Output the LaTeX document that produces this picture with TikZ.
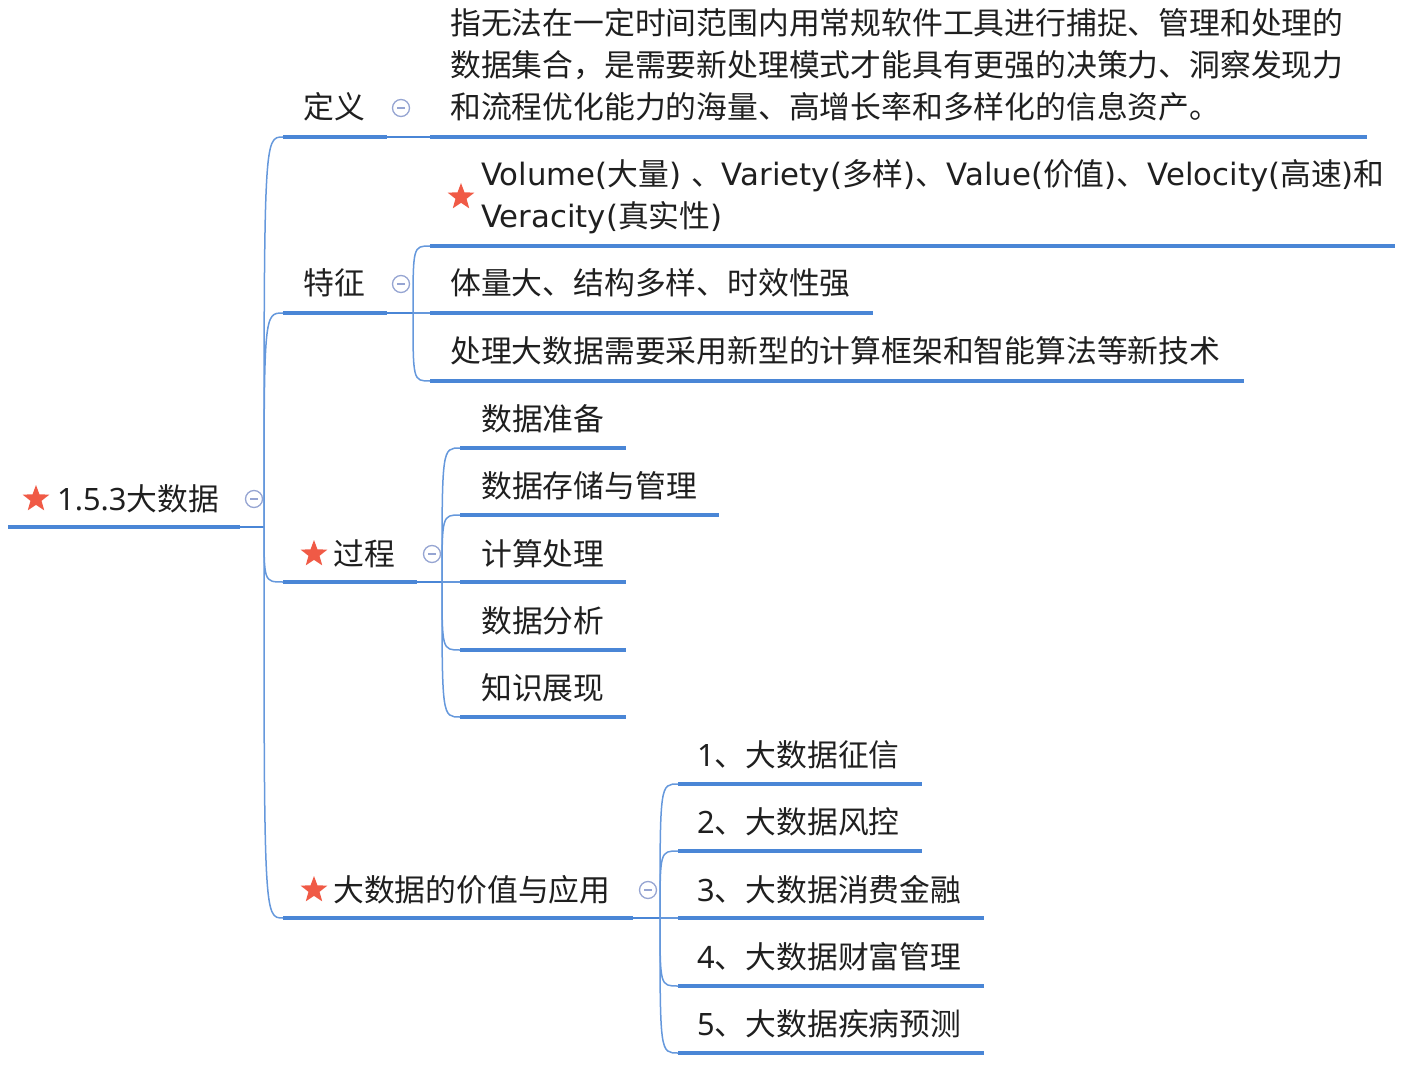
\documentclass[tikz,border=0pt]{standalone}
\usepackage{fontspec}
\setmainfont{Noto Sans CJK SC}
\newfontfamily\latin{Noto Sans}
\newfontfamily\widelatin{DejaVu Sans}
\usetikzlibrary{shapes.geometric}
\definecolor{mapblue}{RGB}{74,134,214}
\definecolor{starred}{RGB}{240,90,70}
\definecolor{foldgray}{RGB}{150,165,210}
\begin{document}
\begin{tikzpicture}[x=1pt, y=-1pt,
  topic/.style={anchor=base west, inner sep=0pt, text=black!88, font=\fontsize{30.8}{42}\selectfont},
  under/.style={mapblue, line width=4pt},
  thin/.style={mapblue, line width=1.5pt},
  link/.style={mapblue!85, line width=1.5pt},
  redstar/.style={star, star points=5, star point ratio=2.4, fill=starred, minimum size=28pt, inner sep=0pt},
  fold/.style={circle, draw=foldgray, line width=1.3pt, minimum size=17pt, inner sep=0pt,
    path picture={\draw[foldgray, line width=1.3pt] ([xshift=-4pt]path picture bounding box.center) -- ([xshift=4pt]path picture bounding box.center);}}]
\useasboundingbox (0,0) rectangle (1403,1067);

% root
\node[redstar] (rootStar) at (36,499) {};
\node[topic] (root) at (57,510) {{\latin 1.5.3}大数据};
\node[fold] (rootFold) at (254,499) {};
\draw[under] (8,527) -- (240,527) coordinate (rootE);
\draw[thin] (rootE) -- (264,527) coordinate (rootHub);

% 定义
\node[topic] (def) at (303,119) {定义};
\node[fold] (defFold) at (401,108) {};
\draw[under] (283,137) coordinate (defS) -- (387,137) coordinate (defE);
\draw[thin] (defE) -- (430,137) coordinate (defHub);
\node[topic, align=left] (defText) at (450,119) {指无法在一定时间范围内用常规软件工具进行捕捉、管理和处理的\\数据集合，是需要新处理模式才能具有更强的决策力、洞察发现力\\和流程优化能力的海量、高增长率和多样化的信息资产。};
\draw[under] (defHub) -- (1367,137);

% 特征
\node[topic] (feat) at (303,295) {特征};
\node[fold] (featFold) at (401,284) {};
\draw[under] (283,313) coordinate (featS) -- (387,313) coordinate (featE);
\draw[thin] (featE) -- (413,313) coordinate (featHub);
\node[redstar] (vStar) at (461,197) {};
\node[topic, align=left] (fiveV) at (481,228) {{\widelatin Volume(}大量{\widelatin ) }、{\widelatin Variety(}多样{\widelatin )}、{\widelatin Value(}价值{\widelatin )}、{\widelatin Velocity(}高速{\widelatin )}和\\{\widelatin Veracity(}真实性{\widelatin )}};
\draw[under] (430,246) coordinate (fiveVS) -- (1395,246);
\node[topic] (featA) at (450,295) {体量大、结构多样、时效性强};
\draw[under] (430,313) coordinate (featAS) -- (873,313);
\node[topic] (featB) at (450,362) {处理大数据需要采用新型的计算框架和智能算法等新技术};
\draw[under] (430,381) coordinate (featBS) -- (1244,381);

% 过程
\node[redstar] (procStar) at (314,554) {};
\node[topic] (proc) at (333,565) {过程};
\node[fold] (procFold) at (432,554) {};
\draw[under] (283,582) coordinate (procS) -- (417,582) coordinate (procE);
\draw[thin] (procE) -- (442,582) coordinate (procHub);
\node[topic] (procA) at (481,430) {数据准备};
\draw[under] (460,448) coordinate (procAS) -- (626,448);
\node[topic] (procB) at (481,497) {数据存储与管理};
\draw[under] (460,515) coordinate (procBS) -- (719,515);
\node[topic] (procC) at (481,565) {计算处理};
\draw[under] (460,582) coordinate (procCS) -- (626,582);
\node[topic] (procD) at (481,632) {数据分析};
\draw[under] (460,650) coordinate (procDS) -- (626,650);
\node[topic] (procE2) at (481,699) {知识展现};
\draw[under] (460,717) coordinate (procES) -- (626,717);

% 价值与应用
\node[redstar] (appStar) at (314,890) {};
\node[topic] (app) at (333,901) {大数据的价值与应用};
\node[fold] (appFold) at (648,890) {};
\draw[under] (283,918) coordinate (appS) -- (633,918) coordinate (appE);
\draw[thin] (appE) -- (660,918) coordinate (appHub);
\node[topic] (appA) at (697,766) {{\latin 1}、大数据征信};
\draw[under] (678,784) coordinate (appAS) -- (922,784);
\node[topic] (appB) at (697,833) {{\latin 2}、大数据风控};
\draw[under] (678,851) coordinate (appBS) -- (922,851);
\node[topic] (appC) at (697,901) {{\latin 3}、大数据消费金融};
\draw[under] (678,918) coordinate (appCS) -- (984,918);
\node[topic] (appD) at (697,968) {{\latin 4}、大数据财富管理};
\draw[under] (678,986) coordinate (appDS) -- (984,986);
\node[topic] (appE2) at (697,1035) {{\latin 5}、大数据疾病预测};
\draw[under] (678,1053) coordinate (appES) -- (984,1053);

% connectors
\draw[link] (rootHub) .. controls (rootHub |- defS) .. (defS);
\draw[link] (rootHub) .. controls (rootHub |- featS) .. (featS);
\draw[link] (rootHub) .. controls (rootHub |- procS) .. (procS);
\draw[link] (rootHub) .. controls (rootHub |- appS) .. (appS);
\draw[link] (featHub) .. controls (featHub |- fiveVS) .. (fiveVS);
\draw[link] (featHub) -- (featAS);
\draw[link] (featHub) .. controls (featHub |- featBS) .. (featBS);
\draw[link] (procHub) .. controls (procHub |- procAS) .. (procAS);
\draw[link] (procHub) .. controls (procHub |- procBS) .. (procBS);
\draw[link] (procHub) -- (procCS);
\draw[link] (procHub) .. controls (procHub |- procDS) .. (procDS);
\draw[link] (procHub) .. controls (procHub |- procES) .. (procES);
\draw[link] (appHub) .. controls (appHub |- appAS) .. (appAS);
\draw[link] (appHub) .. controls (appHub |- appBS) .. (appBS);
\draw[link] (appHub) -- (appCS);
\draw[link] (appHub) .. controls (appHub |- appDS) .. (appDS);
\draw[link] (appHub) .. controls (appHub |- appES) .. (appES);
\end{tikzpicture}
\end{document}
